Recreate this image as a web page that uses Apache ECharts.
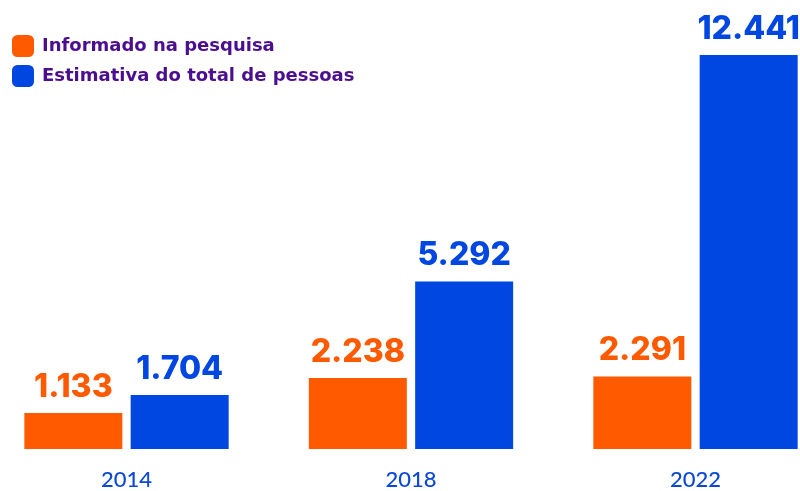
<!DOCTYPE html>
<html>
<head>
	<meta charset="UTF-8">
	<title>Pesquisa</title>
	<script src="https://cdn.jsdelivr.net/npm/echarts@6/dist/echarts.min.js"></script>
	<style>
		html, body { margin: 0; padding: 0; background: #fff; }
		#container { width: 800px; height: 491px; }
	</style>
</head>
<body>
	<div id="container"></div>
	<script>
		var anos = ['2014', '2018', '2022'];
		var informado = [1133, 2238, 2291];
		var estimativa = [1704, 5292, 12441];
		var nomes = ['Informado na pesquisa', 'Estimativa do total de pessoas'];

		function fmt(v) {
			return String(v).replace(/\B(?=(\d{3})+(?!\d))/g, '.');
		}

		var myChart = echarts.init(document.getElementById('container'));
		var option = {
			animation: false,
			legend: {
				orient: 'vertical',
				left: 7,
				top: 30,
				itemWidth: 22,
				itemHeight: 22,
				itemGap: 8,
				icon: 'roundRect',
				data: nomes,
				textStyle: {
					color: '#4a0e8f',
					fontSize: 18,
					fontWeight: 'bold',
					fontFamily: 'DejaVu Sans',
					padding: [0, 0, 0, 3]
				}
			},
			grid: { left: 126.5, right: 104.5, top: 55, bottom: 41 },
			xAxis: {
				type: 'category',
				data: anos,
				boundaryGap: false,
				axisLine: { show: false },
				axisTick: { show: false },
				axisLabel: {
					color: '#0a48d6',
					fontSize: 22,
					fontWeight: 500,
					fontFamily: 'Lato',
					margin: 20
				}
			},
			yAxis: {
				type: 'value',
				min: 0,
				max: 12441,
				show: false,
				splitLine: { show: false }
			},
			series: [
				{
					name: nomes[0],
					type: 'bar',
					data: informado,
					barWidth: 98,
					barGap: '8.5%',
					itemStyle: { color: '#ff5a00' },
					label: {
						show: true,
						position: 'top',
						distance: 10,
						color: '#ff5a00',
						fontSize: 32,
						fontWeight: 800,
						fontFamily: 'Inter',
						formatter: function (p) { return fmt(p.value); }
					}
				},
				{
					name: nomes[1],
					type: 'bar',
					data: estimativa,
					barWidth: 98,
					itemStyle: { color: '#0046e0' },
					label: {
						show: true,
						position: 'top',
						distance: 10,
						color: '#0046e0',
						fontSize: 32,
						fontWeight: 800,
						fontFamily: 'Inter',
						formatter: function (p) { return fmt(p.value); }
					}
				}
			]
		};
		myChart.setOption(option);
	</script>
</body>
</html>
